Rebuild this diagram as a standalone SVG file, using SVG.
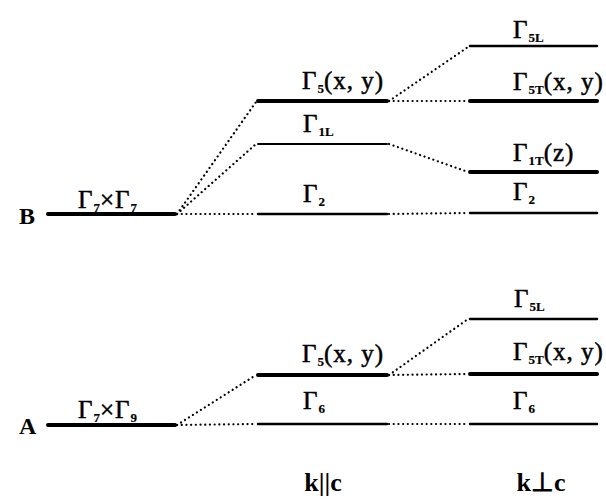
<svg xmlns="http://www.w3.org/2000/svg" width="606" height="500" viewBox="0 0 606 500">
<style>
text{font-family:"Liberation Serif","Times New Roman",serif;fill:#000}
.lb{font-size:25px;letter-spacing:1px;stroke:#000;stroke-width:0.5}
.s{font-size:13px;letter-spacing:0;font-weight:bold;stroke-width:0.2}
.tag{font-size:24px;font-weight:bold}
.ax{font-size:26px;font-weight:bold}
.thick{stroke:#000;stroke-width:4;stroke-linecap:round}
.thin{stroke:#000;stroke-width:2.5;stroke-linecap:round}
.hair{stroke:#000;stroke-width:2;stroke-linecap:round}
.dot{stroke:#000;stroke-width:2.2;stroke-linecap:round;stroke-dasharray:0.1 4.6;fill:none}
</style>
<rect width="606" height="500" fill="#fff"/>
<g id="connectors">
<line class="dot" x1="177" y1="214" x2="256" y2="102"/>
<line class="dot" x1="177" y1="214" x2="256" y2="144"/>
<line class="dot" x1="177" y1="214" x2="256" y2="214"/>
<line class="dot" x1="389" y1="101" x2="468" y2="47"/>
<line class="dot" x1="389" y1="101" x2="468" y2="101"/>
<line class="dot" x1="389" y1="144" x2="468" y2="172"/>
<line class="dot" x1="389" y1="214" x2="468" y2="213"/>
<line class="dot" x1="177" y1="425" x2="256" y2="375"/>
<line class="dot" x1="177" y1="425" x2="256" y2="424"/>
<line class="dot" x1="389" y1="375" x2="468" y2="319"/>
<line class="dot" x1="389" y1="375" x2="468" y2="374"/>
<line class="dot" x1="389" y1="424" x2="468" y2="424"/>
</g>
<g id="labelB"><text class="tag" x="19" y="224">B</text></g>
<g id="labelA"><text class="tag" x="19" y="434">A</text></g>
<g id="B-G7xG7">
<line class="thick" x1="48" y1="214" x2="175" y2="214"/>
<text class="lb" x="78" y="208">Γ<tspan class="s" dy="4">7</tspan><tspan dy="-4">×Γ</tspan><tspan class="s" dy="4">7</tspan></text>
</g>
<g id="B-G5">
<line class="thick" x1="258" y1="101" x2="387" y2="101"/>
<text class="lb" x="302" y="89">Γ<tspan class="s" dy="4">5</tspan><tspan dy="-4">(x, y)</tspan></text>
</g>
<g id="B-G1L">
<line class="hair" x1="258" y1="144" x2="387" y2="144"/>
<text class="lb" x="303" y="132">Γ<tspan class="s" dy="4">1L</tspan></text>
</g>
<g id="B-G2">
<line class="thin" x1="258" y1="214" x2="387" y2="214"/>
<text class="lb" x="303" y="202">Γ<tspan class="s" dy="4">2</tspan></text>
</g>
<g id="B-G5L">
<line class="thin" x1="470" y1="46" x2="597" y2="46"/>
<text class="lb" x="513" y="38">Γ<tspan class="s" dy="4">5L</tspan></text>
</g>
<g id="B-G5T">
<line class="thick" x1="470" y1="101" x2="597" y2="101"/>
<text class="lb" x="513" y="90">Γ<tspan class="s" dy="4">5T</tspan><tspan dy="-4">(x, y)</tspan></text>
</g>
<g id="B-G1T">
<line class="thick" x1="470" y1="172" x2="597" y2="172"/>
<text class="lb" x="513" y="161">Γ<tspan class="s" dy="4">1T</tspan><tspan dy="-4">(z)</tspan></text>
</g>
<g id="B-G2r">
<line class="thin" x1="470" y1="213" x2="597" y2="213"/>
<text class="lb" x="513" y="200">Γ<tspan class="s" dy="4">2</tspan></text>
</g>
<g id="A-G7xG9">
<line class="thick" x1="48" y1="425" x2="175" y2="425"/>
<text class="lb" x="78" y="418">Γ<tspan class="s" dy="4">7</tspan><tspan dy="-4">×Γ</tspan><tspan class="s" dy="4">9</tspan></text>
</g>
<g id="A-G5">
<line class="thick" x1="258" y1="375" x2="387" y2="375"/>
<text class="lb" x="302" y="362">Γ<tspan class="s" dy="4">5</tspan><tspan dy="-4">(x, y)</tspan></text>
</g>
<g id="A-G6">
<line class="thin" x1="258" y1="424" x2="387" y2="424"/>
<text class="lb" x="303" y="409">Γ<tspan class="s" dy="4">6</tspan></text>
</g>
<g id="A-G5L">
<line class="thin" x1="470" y1="319" x2="597" y2="319"/>
<text class="lb" x="514" y="307">Γ<tspan class="s" dy="4">5L</tspan></text>
</g>
<g id="A-G5T">
<line class="thick" x1="470" y1="374" x2="597" y2="374"/>
<text class="lb" x="513" y="360">Γ<tspan class="s" dy="4">5T</tspan><tspan dy="-4">(x, y)</tspan></text>
</g>
<g id="A-G6r">
<line class="thin" x1="470" y1="424" x2="597" y2="424"/>
<text class="lb" x="513" y="409">Γ<tspan class="s" dy="4">6</tspan></text>
</g>
<g id="axis-labels">
<text class="ax" x="323" y="491" text-anchor="middle">k||c</text>
<text class="ax" x="541" y="491" text-anchor="middle">k⊥c</text>
</g>
</svg>
